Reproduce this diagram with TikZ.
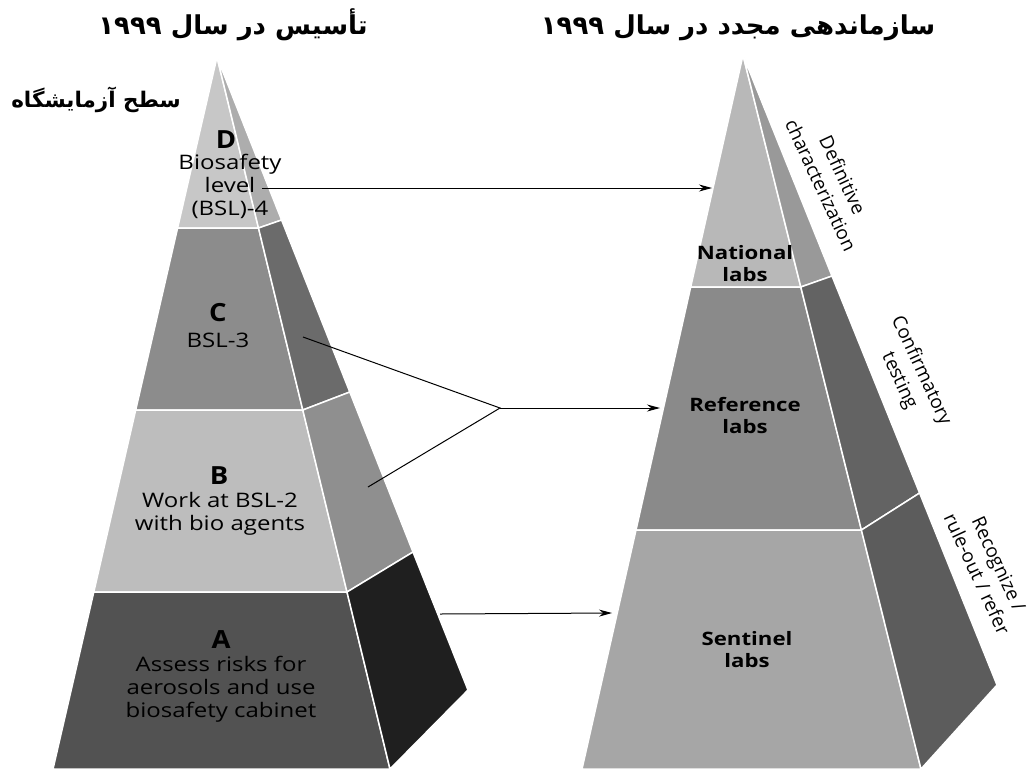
\documentclass[tikz,border=0pt]{standalone}
\usepackage{fontspec}
\setmainfont{Open Sans}
\newfontfamily\fab[Script=Arabic]{DejaVu Sans Bold}
\TeXXeTstate=1
\usetikzlibrary{arrows.meta}
\definecolor{dF}{gray}{0.78}
\definecolor{dS}{gray}{0.68}
\definecolor{cF}{gray}{0.55}
\definecolor{cS}{gray}{0.42}
\definecolor{bF}{gray}{0.74}
\definecolor{bS}{gray}{0.56}
\definecolor{aF}{gray}{0.32}
\definecolor{aS}{gray}{0.12}
\definecolor{nF}{gray}{0.72}
\definecolor{nS}{gray}{0.60}
\definecolor{rF}{gray}{0.54}
\definecolor{rS}{gray}{0.39}
\definecolor{sF}{gray}{0.65}
\definecolor{sS}{gray}{0.36}
\begin{document}
\begin{tikzpicture}[x=1pt,y=-1pt,
  face/.style={draw=white, line width=1.5pt, line join=round},
  lbl/.style={font=\fontsize{20}{23}\selectfont, align=center, inner sep=0pt, xscale=1.2},
  lett/.style={font=\fontsize{25}{27}\selectfont\bfseries, inner sep=0pt, xscale=1.1},
  rlbl/.style={font=\fontsize{18.5}{22}\selectfont\bfseries, align=center, inner sep=0pt, xscale=1.2},
  sidetxt/.style={font=\fontsize{19}{24}\selectfont, align=center, inner sep=0pt, rotate=-65},
  fat/.style={font=\fab\fontsize{26}{28}\selectfont, inner sep=0pt},
  conn/.style={draw, line width=1pt},
  arr/.style={conn, -{Stealth[length=13pt,width=7pt]}}]
\useasboundingbox (0,0) rectangle (1030,769);
\fill[white] (0,0) rectangle (1030,769);

% ---- left pyramid: front faces
\filldraw[face, fill=dF] (217,57) -- (177.6,228) -- (258.5,228) -- cycle;
\filldraw[face, fill=cF] (177.6,228) -- (135.7,410) -- (302.8,410) -- (258.5,228) -- cycle;
\filldraw[face, fill=bF] (135.7,410) -- (93.8,592) -- (347,592) -- (302.8,410) -- cycle;
\filldraw[face, fill=aF] (93.8,592) -- (53,769) -- (390,769) -- (347,592) -- cycle;
% side faces
\filldraw[face, fill=dS] (217,57) -- (258.5,228) -- (281.6,220) -- cycle;
\filldraw[face, fill=cS] (258.5,228) -- (302.8,410) -- (349.8,392) -- (281.6,220) -- cycle;
\filldraw[face, fill=bS] (302.8,410) -- (347,592) -- (413,552) -- (349.8,392) -- cycle;
\filldraw[face, fill=aS] (347,592) -- (390,769) -- (468,690) -- (413,552) -- cycle;

% ---- right pyramid: front faces
\filldraw[face, fill=nF] (743,55) -- (690.7,287) -- (800.8,287) -- cycle;
\filldraw[face, fill=rF] (690.7,287) -- (636,530) -- (861.4,530) -- (800.8,287) -- cycle;
\filldraw[face, fill=sF] (636,530) -- (582,769) -- (921,769) -- (861.4,530) -- cycle;
% side faces
\filldraw[face, fill=nS] (743,55) -- (800.8,287) -- (832,276) -- cycle;
\filldraw[face, fill=rS] (800.8,287) -- (861.4,530) -- (919.6,493) -- (832,276) -- cycle;
\filldraw[face, fill=sS] (861.4,530) -- (921,769) -- (997,685) -- (919.6,493) -- cycle;

% ---- titles
\node[fat] (t1) at (233,25) {\beginR تأسیس در سال \beginL ۱۹۹۹\endL{}\endR};
\node[fat] (t2) at (738,28) {\beginR سازماندهی مجدد در سال \beginL ۱۹۹۹\endL{}\endR};
\node[fat, font=\fab\fontsize{21.5}{24}\selectfont] (t3) at (96,100) {\beginR سطح آزمایشگاه\endR};

% ---- left labels
\node[lett] (dL) at (226,140) {D};
\node[lbl] (dT) at (230,186) {Biosafety\\level\\(BSL)-4};
\node[lett] (cL) at (218,313) {C};
\node[lbl] (cT) at (218,340) {BSL-3};
\node[lett] (bL) at (219,476) {B};
\node[lbl] (bT) at (220,514) {Work at BSL-2\\with bio agents};
\node[lett] (aL) at (221,640) {A};
\node[lbl] (aT) at (221,689) {Assess risks for\\aerosols and use\\biosafety cabinet};

% ---- right labels
\node[rlbl] (nT) at (745,264) {National\\labs};
\node[rlbl] (rT) at (745,416) {Reference\\labs};
\node[rlbl] (sT) at (747,650) {Sentinel\\labs};

\node[sidetxt] (s1) at (832,180) {Definitive\\characterization};
\node[sidetxt] (s2) at (910,376) {Confirmatory\\testing};
\node[sidetxt] (s3) at (988,569) {Recognize /\\rule-out / refer};

% ---- connectors
\coordinate (dSt) at (262,188);
\coordinate (dEn) at (712,188);
\coordinate (cSt) at (303,337);
\coordinate (bSt) at (368,487);
\coordinate (jn) at (500,408);
\coordinate (rEn) at (660,408);
\coordinate (aSt) at (440,614);
\coordinate (aEn) at (612,613);
\draw[arr] (dSt) -- (dEn);
\draw[conn] (cSt) -- (jn) -- (bSt);
\draw[arr] (jn) -- (rEn);
\draw[arr] (aSt) -- (aEn);
\end{tikzpicture}
\end{document}
